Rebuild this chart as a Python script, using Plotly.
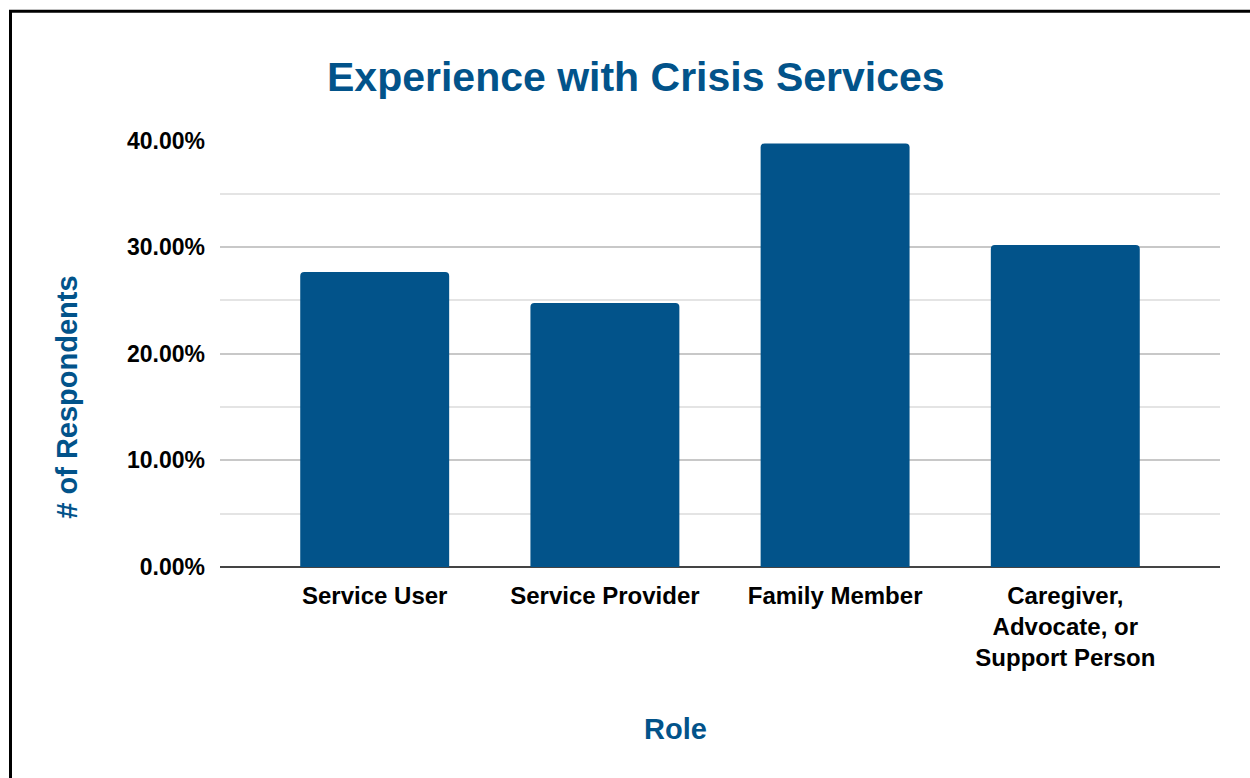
import plotly.graph_objects as go

# Survey results: share of respondents by role
roles = ["Service User", "Service Provider", "Family Member",
         "Caregiver,<br>Advocate, or<br>Support Person"]
shares = [0.2767, 0.2477, 0.3972, 0.3020]

y_ticks = [0.0, 0.1, 0.2, 0.3, 0.4]
y_tick_text = ["0.00%", "10.00%", "20.00%", "30.00%", "40.00%"]

BLUE = "#02538a"
FONT = "Liberation Sans, Arial, sans-serif"

W, H = 1250, 778
L, R, T, B = 220, 30, 140, 210.5
plot_w = W - L - R
plot_h = H - T - B


def px_x(x):
    return (x - L) / plot_w


def px_y(y):
    return (H - B - y) / plot_h


fig = go.Figure(
    go.Bar(
        x=list(range(len(roles))),
        y=shares,
        marker=dict(color=BLUE, cornerradius=4, line=dict(width=0)),
        hoverinfo="skip",
    )
)

fig.update_layout(
    width=W,
    height=H,
    margin=dict(l=L, r=R, t=T, b=B, pad=0),
    paper_bgcolor="white",
    plot_bgcolor="white",
    bargap=0.353,
    showlegend=False,
    font=dict(family=FONT, color="#000000"),
)

fig.update_xaxes(
    range=[-0.672, 3.672],
    tickmode="array",
    tickvals=list(range(len(roles))),
    ticktext=roles,
    tickfont=dict(family=FONT, size=24, color="#000000", weight="bold"),
    showgrid=False,
    showline=False,
    zeroline=False,
    ticks="",
    ticklabelstandoff=12,
)

fig.update_yaxes(
    range=[0, 0.4005],
    tickmode="array",
    tickvals=y_ticks,
    ticktext=y_tick_text,
    tickfont=dict(family=FONT, size=23, color="#000000", weight="bold"),
    showgrid=True,
    gridcolor="#c8c8c8",
    gridwidth=2,
    minor=dict(dtick=0.05, showgrid=True, gridcolor="#e4e4e4", gridwidth=2),
    zeroline=True,
    zerolinecolor="#444444",
    zerolinewidth=2,
    showline=False,
    ticks="",
    ticklabelstandoff=14,
)

annotations = [
    dict(text="<b>Experience with Crisis Services</b>", x=px_x(635.5), y=px_y(77),
         xref="paper", yref="paper", xanchor="center", yanchor="middle",
         showarrow=False, font=dict(family=FONT, size=41, color=BLUE)),
    dict(text="<b># of Respondents</b>", x=px_x(67), y=px_y(398),
         xref="paper", yref="paper", xanchor="center", yanchor="middle",
         textangle=-90, showarrow=False,
         font=dict(family=FONT, size=29, color=BLUE)),
    dict(text="<b>Role</b>", x=px_x(675), y=px_y(730),
         xref="paper", yref="paper", xanchor="center", yanchor="middle",
         showarrow=False, font=dict(family=FONT, size=29, color=BLUE)),
]
fig.update_layout(annotations=annotations)

# Black frame around the chart
fig.add_shape(
    type="rect", xref="paper", yref="paper",
    x0=px_x(10.5), x1=px_x(1265), y0=px_y(800), y1=px_y(11),
    line=dict(color="black", width=3), fillcolor="rgba(0,0,0,0)", layer="above",
)

fig.write_html("out.html")
